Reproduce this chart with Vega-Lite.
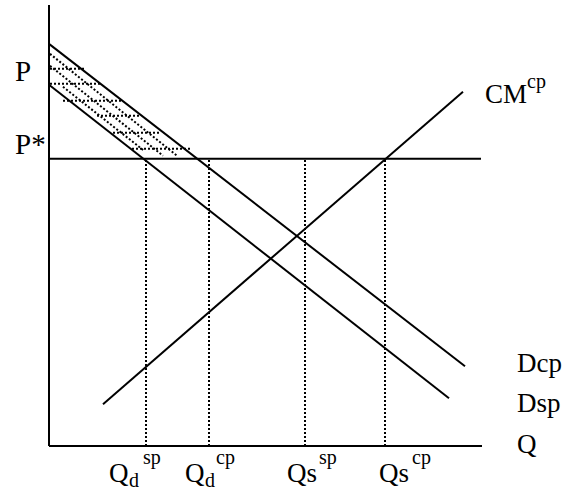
{
  "$schema": "https://vega.github.io/schema/vega-lite/v6.json",
  "width": 569,
  "height": 496,
  "padding": 0,
  "autosize": {"type": "fit", "contains": "padding"},
  "background": "white",
  "config": {"view": {"stroke": null}},
  "datasets": {
    "solid": [
      {"id": "yaxis", "o": 0, "q": 0, "p": 0}, {"id": "yaxis", "o": 1, "q": 0, "p": 442},
      {"id": "xaxis", "o": 0, "q": 0, "p": 0}, {"id": "xaxis", "o": 1, "q": 433, "p": 0},
      {"id": "pstar", "o": 0, "q": 0, "p": 288}, {"id": "pstar", "o": 1, "q": 432, "p": 288},
      {"id": "Dcp", "o": 0, "q": 0, "p": 403}, {"id": "Dcp", "o": 1, "q": 416, "p": 80},
      {"id": "Dsp", "o": 0, "q": 0, "p": 362}, {"id": "Dsp", "o": 1, "q": 400, "p": 48},
      {"id": "CM", "o": 0, "q": 54, "p": 42}, {"id": "CM", "o": 1, "q": 414, "p": 355}
    ],
    "dotted": [
      {"id": "v1", "o": 0, "q": 97, "p": 0}, {"id": "v1", "o": 1, "q": 97, "p": 288},
      {"id": "v2", "o": 0, "q": 160, "p": 0}, {"id": "v2", "o": 1, "q": 160, "p": 288},
      {"id": "v3", "o": 0, "q": 256, "p": 0}, {"id": "v3", "o": 1, "q": 256, "p": 288},
      {"id": "v4", "o": 0, "q": 336, "p": 0}, {"id": "v4", "o": 1, "q": 336, "p": 288},
      {"id": "d1", "o": 0, "q": 1, "p": 393}, {"id": "d1", "o": 1, "q": 128, "p": 291},
      {"id": "d2", "o": 0, "q": 1, "p": 381}, {"id": "d2", "o": 1, "q": 114, "p": 291},
      {"id": "d3", "o": 0, "q": 14, "p": 360}, {"id": "d3", "o": 1, "q": 95, "p": 296},
      {"id": "h1", "o": 0, "q": 1, "p": 378}, {"id": "h1", "o": 1, "q": 36, "p": 378},
      {"id": "h2", "o": 0, "q": 1, "p": 363}, {"id": "h2", "o": 1, "q": 51, "p": 363},
      {"id": "h3", "o": 0, "q": 14, "p": 346}, {"id": "h3", "o": 1, "q": 74, "p": 346},
      {"id": "h4", "o": 0, "q": 48, "p": 331}, {"id": "h4", "o": 1, "q": 91, "p": 331},
      {"id": "h5", "o": 0, "q": 64, "p": 314}, {"id": "h5", "o": 1, "q": 111, "p": 314},
      {"id": "h6", "o": 0, "q": 83, "p": 298}, {"id": "h6", "o": 1, "q": 141, "p": 298}
    ],
    "big": [
      {"t": "P", "q": -34, "p": 366},
      {"t": "P*", "q": -34, "p": 293}
    ],
    "main": [
      {"t": "CM", "q": 436, "p": 344},
      {"t": "Dcp", "q": 468, "p": 74},
      {"t": "Dsp", "q": 468, "p": 34},
      {"t": "Q", "q": 468, "p": -7},
      {"t": "Q", "q": 60, "p": -36},
      {"t": "Q", "q": 136, "p": -36},
      {"t": "Qs", "q": 238, "p": -36},
      {"t": "Qs", "q": 330, "p": -36}
    ],
    "sup": [
      {"t": "cp", "q": 478, "p": 359},
      {"t": "sp", "q": 94, "p": -18},
      {"t": "cp", "q": 167, "p": -18},
      {"t": "sp", "q": 270, "p": -18},
      {"t": "cp", "q": 363, "p": -18}
    ],
    "sub": [
      {"t": "d", "q": 80, "p": -41},
      {"t": "d", "q": 156, "p": -41}
    ]
  },
  "encoding": {
    "x": {"field": "q", "type": "quantitative", "axis": null, "scale": {"domain": [-49, 520], "nice": false, "zero": false}},
    "y": {"field": "p", "type": "quantitative", "axis": null, "scale": {"domain": [-50, 446], "nice": false, "zero": false}}
  },
  "layer": [
    {
      "data": {"name": "dotted"},
      "mark": {"type": "line", "color": "black", "strokeWidth": 2, "strokeDash": [2, 2]},
      "encoding": {"detail": {"field": "id"}, "order": {"field": "o"}}
    },
    {
      "data": {"name": "solid"},
      "mark": {"type": "line", "color": "black", "strokeWidth": 2},
      "encoding": {"detail": {"field": "id"}, "order": {"field": "o"}}
    },
    {
      "data": {"name": "big"},
      "mark": {"type": "text", "font": "Liberation Serif", "fontSize": 29, "align": "left", "baseline": "alphabetic", "color": "black"},
      "encoding": {"text": {"field": "t"}}
    },
    {
      "data": {"name": "main"},
      "mark": {"type": "text", "font": "Liberation Serif", "fontSize": 27, "align": "left", "baseline": "alphabetic", "color": "black"},
      "encoding": {"text": {"field": "t"}}
    },
    {
      "data": {"name": "sup"},
      "mark": {"type": "text", "font": "Liberation Serif", "fontSize": 20, "align": "left", "baseline": "alphabetic", "color": "black"},
      "encoding": {"text": {"field": "t"}}
    },
    {
      "data": {"name": "sub"},
      "mark": {"type": "text", "font": "Liberation Serif", "fontSize": 20, "align": "left", "baseline": "alphabetic", "color": "black"},
      "encoding": {"text": {"field": "t"}}
    }
  ]
}
